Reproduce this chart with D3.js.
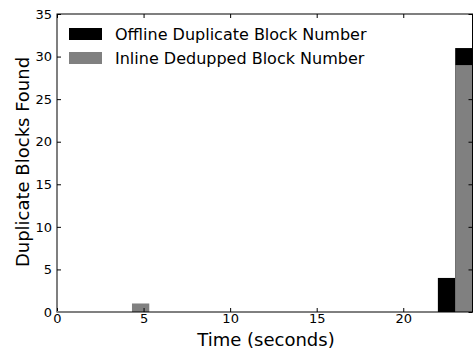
<!DOCTYPE html>
<html>
<head>
<meta charset="utf-8">
<script src="https://cdn.jsdelivr.net/npm/d3@7"></script>
<style>
  html, body { margin: 0; padding: 0; background: #fff; }
  svg { display: block; font-family: "DejaVu Sans", sans-serif; }
</style>
</head>
<body>
<svg id="chart" width="474" height="350"></svg>
<script>
// Time bins (start, in seconds) with a width of one second each
const binStart = [4.33, 22, 23];
const binWidth = 1;
// Blocks found per bin
const offlineDup = [0, 4, 31];
const inlineDedup = [1, 0, 29];
const xTicks = [0, 5, 10, 15, 20];
const yTicks = [0, 5, 10, 15, 20, 25, 30, 35];
const seriesNames = ["Offline Duplicate Block Number", "Inline Dedupped Block Number"];
const seriesColors = ["#000000", "#808080"];

const svg = d3.select("#chart");
const m = { left: 57, right: 1.5, top: 14, bottom: 38 };
const W = 474, H = 350;
const x = d3.scaleLinear().domain([0, 24]).range([m.left, W - m.right]);
const y = d3.scaleLinear().domain([0, 35]).range([H - m.bottom, m.top]);

const g = svg.append("g");

// Offline bars drawn first, inline bars on top of them
binStart.forEach((s, i) => {
  if (offlineDup[i] > 0) {
    g.append("rect")
      .attr("x", x(s)).attr("width", x(s + binWidth) - x(s))
      .attr("y", y(offlineDup[i])).attr("height", y(0) - y(offlineDup[i]))
      .attr("fill", seriesColors[0]);
  }
});
binStart.forEach((s, i) => {
  if (inlineDedup[i] > 0) {
    g.append("rect")
      .attr("x", x(s)).attr("width", x(s + binWidth) - x(s))
      .attr("y", y(inlineDedup[i])).attr("height", y(0) - y(inlineDedup[i]))
      .attr("fill", seriesColors[1]);
  }
});

// Axes with inward ticks on all four sides
const tl = 4;
const xb = g.append("g").attr("transform", `translate(0,${y(0)})`)
  .call(d3.axisBottom(x).tickValues(xTicks).tickSize(-tl).tickPadding(1.5));
const xt = g.append("g").attr("transform", `translate(0,${y(35)})`)
  .call(d3.axisTop(x).tickValues(xTicks).tickSize(-tl).tickFormat(""));
const yl = g.append("g").attr("transform", `translate(${x(0)},0)`)
  .call(d3.axisLeft(y).tickValues(yTicks).tickSize(-tl).tickPadding(5));
const yr = g.append("g").attr("transform", `translate(${x(24)},0)`)
  .call(d3.axisRight(y).tickValues(yTicks).tickSize(-tl).tickFormat(""));

[xb, xt, yl, yr].forEach(a => {
  a.select(".domain").remove();
  a.selectAll("line").attr("stroke", "#000").attr("stroke-width", 1);
  a.selectAll("text").attr("font-size", 13).attr("fill", "#000")
    .attr("font-family", "DejaVu Sans, sans-serif");
});

// Plot frame
g.append("rect")
  .attr("x", x(0)).attr("y", y(35))
  .attr("width", x(24) - x(0)).attr("height", y(0) - y(35))
  .attr("fill", "none").attr("stroke", "#000").attr("stroke-width", 1);

// Zero-height inline bars leave a grey edge along the baseline
g.append("line")
  .attr("x1", x(0)).attr("x2", x(binStart[0]))
  .attr("y1", y(0)).attr("y2", y(0))
  .attr("stroke", seriesColors[1]).attr("stroke-width", 2);

// Legend
const lg = g.append("g");
seriesNames.forEach((name, i) => {
  const ly = 28 + i * 24;
  lg.append("rect").attr("x", 69).attr("y", ly).attr("width", 33).attr("height", 12)
    .attr("fill", seriesColors[i]);
  lg.append("text").attr("x", 115).attr("y", ly + 11.5)
    .attr("font-size", 16).attr("fill", "#000").text(name);
});

// Axis titles
svg.append("text").attr("x", 266).attr("y", 346)
  .attr("text-anchor", "middle").attr("font-size", 18).text("Time (seconds)");
svg.append("text")
  .attr("transform", "translate(29,162) rotate(-90)")
  .attr("text-anchor", "middle").attr("font-size", 18).text("Duplicate Blocks Found");
</script>
</body>
</html>
